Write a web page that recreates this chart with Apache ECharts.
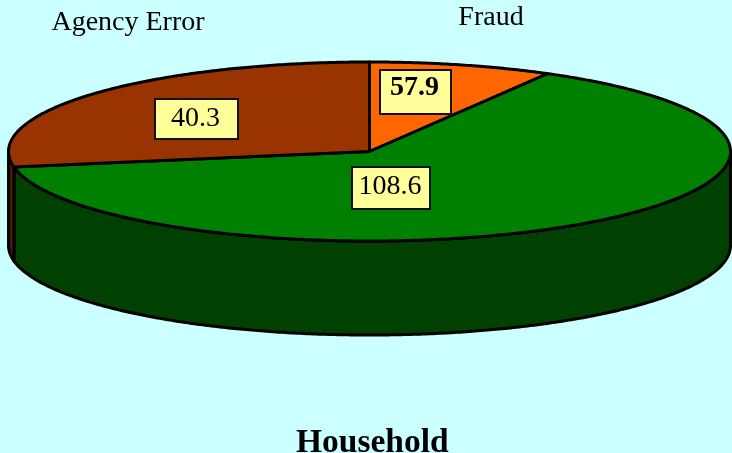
<!DOCTYPE html>
<html>
<head>
<meta charset="utf-8">
<style>html,body{margin:0;padding:0;background:#CCFFFF}#c{width:732px;height:453px}</style>
<script src="https://cdn.jsdelivr.net/npm/echarts@6/dist/echarts.min.js"></script>
</head>
<body>
<div id="c"></div>
<script>
// Data
var sliceNames = ['Fraud', '', 'Agency Error'];
var sliceLabels = ['57.9', '108.6', '40.3'];
var sliceSweepDegrees = [29.6, 230.4, 100];   // drawn slice angles, clockwise from 12 o'clock
var chartTitle = 'Household';

// Styles and layout
var topColors = ['#FF6600', '#008000', '#993300'];
var wallColors = ['#7F3300', '#004000', '#4D1A00'];
var labelBoxes = [
  {x: 380, y: 70, w: 71, h: 44, bold: true, dy: -4},
  {x: 352, y: 167, w: 78, h: 42, bold: false, dy: -1},
  {x: 155, y: 99, w: 83, h: 40, bold: false, dy: 0}
];
var nameSpots = [{x: 491, y: 18}, null, {x: 128, y: 23}];
var CX = 369.5, CY = 151.5, RX = 361, RY = 89.5, DEPTH = 94;
var SERIF = '"Liberation Serif", "Times New Roman", serif';

function pt(deg, dy) {
  var a = deg * Math.PI / 180;
  return [CX + RX * Math.sin(a), CY - RY * Math.cos(a) + (dy || 0)];
}
function arc(a0, a1, dy) {
  var out = [], n = Math.max(2, Math.ceil(Math.abs(a1 - a0) * 2));
  for (var i = 0; i <= n; i++) out.push(pt(a0 + (a1 - a0) * i / n, dy));
  return out;
}
function startOf(i) {
  var s = 0;
  for (var k = 0; k < i; k++) s += sliceSweepDegrees[k];
  return s;
}
var rows = sliceSweepDegrees.map(function (v, i) { return [v, i]; });

function renderWall(params, api) {
  var i = params.dataIndex, s = startOf(i), e = s + api.value(0);
  var a0 = Math.max(s, 90), a1 = Math.min(e, 270);
  if (a1 <= a0) return null;
  var pts = arc(a0, a1, 0).concat(arc(a1, a0, DEPTH));
  return {type: 'polygon', shape: {points: pts},
    style: {fill: wallColors[i], stroke: '#000', lineWidth: 3, lineJoin: 'round'}};
}
function renderTop(params, api) {
  var i = params.dataIndex, s = startOf(i), e = s + api.value(0);
  var pts = [[CX, CY]].concat(arc(s, e, 0));
  return {type: 'polygon', shape: {points: pts},
    style: {fill: topColors[i], stroke: '#000', lineWidth: 3, lineJoin: 'round'}};
}
function renderLabel(params, api) {
  var i = params.dataIndex, b = labelBoxes[i], kids = [
    {type: 'rect', shape: {x: b.x, y: b.y, width: b.w, height: b.h},
      style: {fill: '#FFFF99', stroke: '#111', lineWidth: 2}},
    {type: 'text', style: {text: sliceLabels[i], x: b.x + b.w / 2 - 1, y: b.y + b.h / 2 + b.dy,
      align: 'center', verticalAlign: 'middle', fill: '#000',
      font: (b.bold ? 'bold ' : '') + '28px ' + SERIF}}
  ];
  if (nameSpots[i]) kids.push({type: 'text', style: {text: sliceNames[i], x: nameSpots[i].x, y: nameSpots[i].y,
    align: 'center', verticalAlign: 'middle', fill: '#000', font: '28px ' + SERIF}});
  return {type: 'group', children: kids};
}

var chart = echarts.init(document.getElementById('c'), null, {renderer: 'canvas'});
chart.setOption({
  animation: false,
  backgroundColor: '#CCFFFF',
  title: {text: chartTitle, left: 291, top: 421,
    textStyle: {fontFamily: SERIF, fontWeight: 'bold', fontSize: 33.5, color: '#000'}},
  series: [
    {type: 'custom', coordinateSystem: 'none', silent: true, z: 1, data: rows, renderItem: renderWall},
    {type: 'custom', coordinateSystem: 'none', silent: true, z: 2, data: rows, renderItem: renderTop},
    {type: 'custom', coordinateSystem: 'none', silent: true, z: 3, data: rows, renderItem: renderLabel}
  ]
});
</script>
</body>
</html>
